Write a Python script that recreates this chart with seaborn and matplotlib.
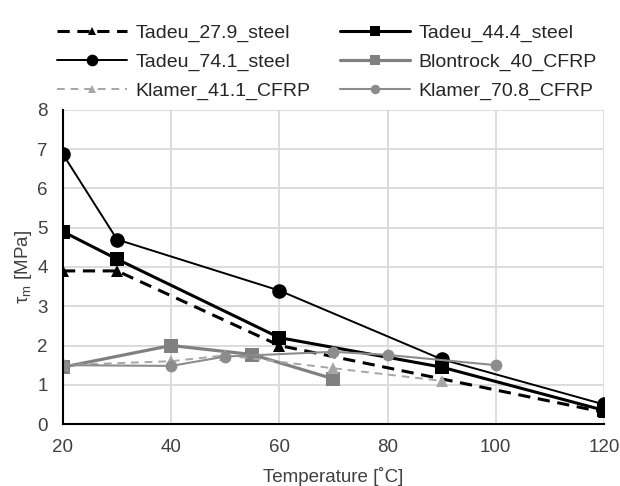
import matplotlib
matplotlib.use("Agg")
import matplotlib.pyplot as plt
import seaborn as sns
import pandas as pd

sns.set_theme(style="white")
plt.rcParams['font.family'] = ['Liberation Sans', 'DejaVu Sans']

# Data
t279_x = [20, 30, 60, 120]
t279_y = [3.9, 3.9, 2.0, 0.3]
t444_x = [20, 30, 60, 90, 120]
t444_y = [4.9, 4.2, 2.2, 1.45, 0.35]
t741_x = [20, 30, 60, 90, 120]
t741_y = [6.87, 4.7, 3.4, 1.65, 0.5]
blon_x = [20, 40, 55, 70]
blon_y = [1.45, 2.0, 1.77, 1.15]
k411_x = [20, 40, 50, 70, 90]
k411_y = [1.5, 1.6, 1.75, 1.42, 1.1]
k708_x = [20, 40, 50, 70, 80, 100]
k708_y = [1.5, 1.48, 1.72, 1.84, 1.76, 1.5]

series = [
    ("Tadeu_27.9_steel", t279_x, t279_y, dict(color="black", lw=2.2, ls=(0, (4, 2.5)), marker="^", ms=8)),
    ("Tadeu_44.4_steel", t444_x, t444_y, dict(color="black", lw=2.2, ls="-", marker="s", ms=9.5)),
    ("Tadeu_74.1_steel", t741_x, t741_y, dict(color="black", lw=1.4, ls="-", marker="o", ms=10.5)),
    ("Blontrock_40_CFRP", blon_x, blon_y, dict(color="#808080", lw=2.3, ls="-", marker="s", ms=9.5)),
    ("Klamer_41.1_CFRP", k411_x, k411_y, dict(color="#a6a6a6", lw=1.4, ls=(0, (4, 3)), marker="^", ms=8)),
    ("Klamer_70.8_CFRP", k708_x, k708_y, dict(color="#8c8c8c", lw=1.5, ls="-", marker="o", ms=8.5)),
]

fig = plt.figure(figsize=(6.2, 4.86), dpi=100)
ax = fig.add_axes([0.1016, 0.1275, 0.8724, 0.6463])

for name, xs, ys, st in series:
    df = pd.DataFrame({"x": xs, "y": ys})
    sns.lineplot(data=df, x="x", y="y", ax=ax, label=name, color=st["color"],
                 linewidth=st["lw"], linestyle=st["ls"], marker=st["marker"],
                 markersize=st["ms"], markeredgewidth=0, markerfacecolor=st["color"])

ax.set_xlim(20, 120)
ax.set_ylim(0, 8)
ax.set_xticks([20, 40, 60, 80, 100, 120])
ax.set_yticks(range(0, 9))
ax.grid(True, color="#d9d9d9", lw=1.3)
ax.set_axisbelow(True)
for s in ["top", "right"]:
    ax.spines[s].set_visible(False)
for s in ["left", "bottom"]:
    ax.spines[s].set_color("black")
    ax.spines[s].set_linewidth(1.5)
ax.tick_params(axis="both", labelsize=13.5, colors="#404040", length=0)
ax.tick_params(axis="x", pad=11)
ax.tick_params(axis="y", pad=11)
ax.set_xlabel("Temperature [˚C]", fontsize=13.5, color="#404040", labelpad=8)
ax.set_ylabel(r"τ$_\mathregular{m}$ [MPa]", fontsize=13.5, color="#404040", labelpad=2)

handles, labels = ax.get_legend_handles_labels()
order = [0, 2, 4, 1, 3, 5]
ax.legend([handles[i] for i in order], [labels[i] for i in order],
          loc="upper left", bbox_to_anchor=(57 / 620, 1 - 24 / 486),
          bbox_transform=fig.transFigure, ncol=2, markerscale=0.8,
          frameon=False, fontsize=14, handlelength=3.6, columnspacing=1.5,
          labelspacing=0.58, handletextpad=0.45, borderaxespad=0, borderpad=0)

fig.savefig("out.png", dpi=100)
